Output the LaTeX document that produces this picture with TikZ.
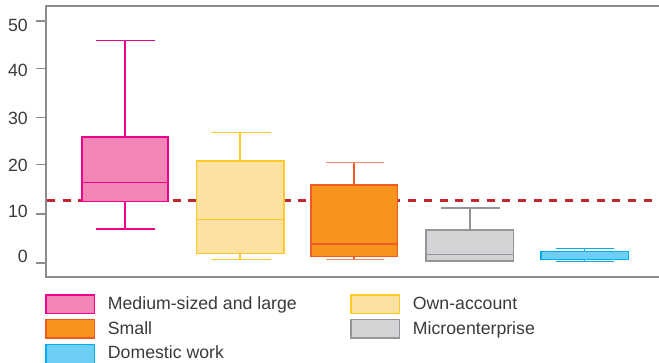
\documentclass[tikz,border=0pt]{standalone}
\usepackage{fontspec}
\setmainfont{Liberation Sans}
\definecolor{pinkF}{HTML}{F287B7}
\definecolor{pinkD}{HTML}{EC008C}
\definecolor{yelF}{HTML}{FDE1A2}
\definecolor{yelD}{HTML}{FFC92A}
\definecolor{oraF}{HTML}{F7941D}
\definecolor{oraD}{HTML}{F15A24}
\definecolor{oraC}{HTML}{F4876A}
\definecolor{greF}{HTML}{D1D3D4}
\definecolor{greD}{HTML}{939598}
\definecolor{bluF}{HTML}{6DCFF6}
\definecolor{bluD}{HTML}{00AEEF}
\definecolor{refR}{HTML}{C1272D}
\definecolor{axisC}{HTML}{8C8C8C}
\definecolor{txtC}{HTML}{3A3A3A}
\tikzset{
  axisline/.style={draw=axisC, line width=1.6pt},
  tickline/.style={draw=axisC, line width=1.3pt},
  ticklabel/.style={anchor=east, inner sep=0pt, text=txtC, font=\fontsize{17.7}{21}\selectfont},
  refline/.style={draw=refR, line width=2.5pt, dash pattern=on 8pt off 7.7pt},
  whisk/.style={line width=1.3pt},
  boxp/.style={line width=1.4pt},
  legbox/.style={line width=1.4pt},
  legtext/.style={anchor=base west, inner sep=0pt, text=txtC, font=\fontsize{17.7}{21}\selectfont},
}
\begin{document}
\begin{tikzpicture}[x=1pt,y=-1pt]
\useasboundingbox (0,0) rectangle (659,363);
% axes frame
\draw[axisline] (659,6) -- (46,6) -- (46,277.3) -- (659,277.3);
% ticks and labels
\foreach \v/\ty/\ly in {0/263/256,10/214/211.5,20/164.6/165,30/117.7/118.3,40/68.5/70.8,50/21/25.3}{
  \draw[tickline] (36,\ty) -- (46,\ty);
  \node[ticklabel] (t\v) at (28,\ly) {\v};
}
% reference line
\draw[refline] (47,200.7) -- (656,200.7);
% Medium-sized and large
\draw[whisk,draw=pinkD] (125,40.7) -- (125,229);
\draw[whisk,draw=pinkD] (96,40.7) -- (155,40.7);
\draw[whisk,draw=pinkD] (96,229) -- (155,229);
\draw[boxp,draw=pinkD,fill=pinkF] (82,137) rectangle (168,201.7);
\draw[boxp,draw=pinkD] (82,182.7) -- (168,182.7);
% Own-account
\draw[whisk,draw=yelD] (240,132.3) -- (240,259.3);
\draw[whisk,draw=yelD] (211.7,132.3) -- (270.7,132.3);
\draw[whisk,draw=yelD] (211.7,259.3) -- (270.7,259.3);
\draw[boxp,draw=yelD,fill=yelF] (196.7,161) rectangle (284,253.7);
\draw[boxp,draw=yelD] (196.7,219.7) -- (284,219.7);
% Small
\draw[whisk,draw=oraD] (354,162.7) -- (354,259.3);
\draw[whisk,draw=oraC] (325.7,162.7) -- (384.3,162.7);
\draw[whisk,draw=oraC] (325.7,259.3) -- (384.3,259.3);
\draw[boxp,draw=oraD,fill=oraF] (311,185) rectangle (397.7,256.7);
\draw[boxp,draw=oraD] (311,244) -- (397.7,244);
% Microenterprise
\draw[whisk,draw=greD] (470,208) -- (470,230);
\draw[whisk,draw=greD] (440.7,208) -- (500,208);
\draw[boxp,draw=greD,fill=greF] (426,230) rectangle (513.3,261);
\draw[boxp,draw=greD] (426,254.7) -- (513.3,254.7);
% Domestic work
\draw[whisk,draw=bluD] (584.3,248.3) -- (584.3,261.3);
\draw[whisk,draw=bluD] (555.7,248.3) -- (614.3,248.3);
\draw[whisk,draw=bluD] (555.7,261.3) -- (614.3,261.3);
\draw[boxp,draw=bluD,fill=bluF] (541,251.7) rectangle (628.3,259.3);
% legend
\draw[legbox,draw=pinkD,fill=pinkF] (46,295) rectangle (94.5,313.5);
\node[legtext] (l1) at (107.7,309.3) {Medium-sized and large};
\draw[legbox,draw=oraD,fill=oraF] (46,319.5) rectangle (94.5,338);
\node[legtext] (l2) at (107.7,334.3) {Small};
\draw[legbox,draw=bluD,fill=bluF] (46,344.3) rectangle (94.5,363.5);
\node[legtext] (l3) at (107.7,359) {Domestic work};
\draw[legbox,draw=yelD,fill=yelF] (351,295) rectangle (399.5,313.5);
\node[legtext] (l4) at (412.7,309.3) {Own-account};
\draw[legbox,draw=greD,fill=greF] (351,319.5) rectangle (399.5,338);
\node[legtext] (l5) at (412.7,334.3) {Microenterprise};
\end{tikzpicture}
\end{document}
